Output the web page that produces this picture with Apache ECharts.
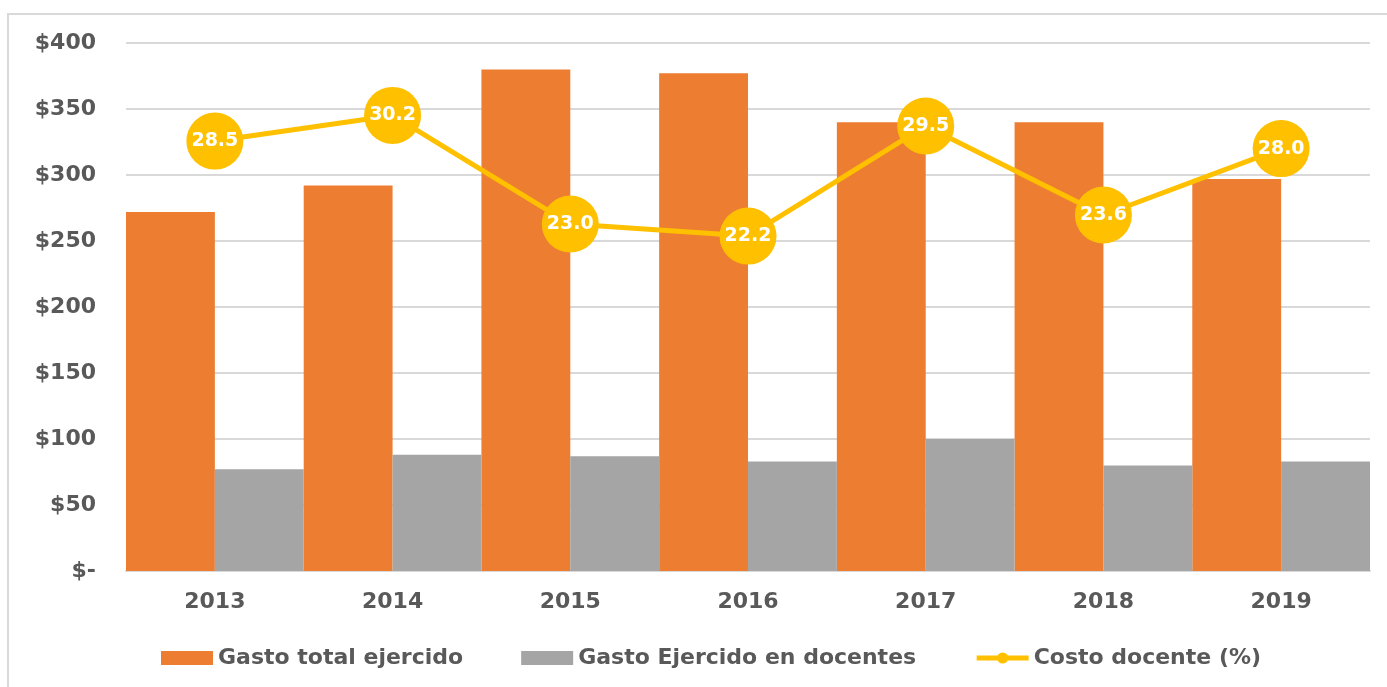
<!DOCTYPE html>
<html>
<head>
<meta charset="utf-8">
<script src="https://cdn.jsdelivr.net/npm/echarts@6/dist/echarts.min.js"></script>
<style>
  html, body { margin: 0; padding: 0; background: #fff; }
  #chart { width: 1387px; height: 687px; }
</style>
</head>
<body>
<div id="chart"></div>
<script>
const years = ['2013', '2014', '2015', '2016', '2017', '2018', '2019'];
const gastoTotal = [272, 292, 380, 377, 340, 340, 297];
const gastoDocentes = [77, 88, 87, 83, 100, 80, 83];
const costoDocente = [28.5, 30.2, 23.0, 22.2, 29.5, 23.6, 28.0];
const seriesNames = ['Gasto total ejercido', 'Gasto Ejercido en docentes', 'Costo docente (%)'];

const textColor = '#595959';
const font = 'DejaVu Sans';

const chart = echarts.init(document.getElementById('chart'));

chart.setOption({
  animation: false,
  textStyle: {fontFamily: font},
  graphic: [
    {
      type: 'rect',
      shape: {x: 8, y: 14, width: 1400, height: 700},
      style: {fill: 'none', stroke: '#d9d9d9', lineWidth: 2},
      silent: true
    }
  ],
  grid: {left: 126, right: 17, top: 43, bottom: 116},
  legend: {
    left: 156,
    top: 642,
    itemWidth: 52,
    itemHeight: 14,
    itemGap: 58,
    textStyle: {color: textColor, fontSize: 22, fontWeight: 'bold', fontFamily: font},
    data: [
      {name: seriesNames[0], icon: 'rect'},
      {name: seriesNames[1], icon: 'rect'},
      {name: seriesNames[2], lineStyle: {width: 5}}
    ]
  },
  xAxis: {
    type: 'category',
    data: years,
    axisTick: {show: false},
    axisLine: {lineStyle: {color: '#d9d9d9', width: 2}},
    axisLabel: {color: textColor, fontSize: 22, fontWeight: 'bold', margin: 20}
  },
  yAxis: [
    {
      type: 'value',
      min: 0,
      max: 400,
      interval: 50,
      axisLabel: {
        color: textColor,
        fontSize: 22,
        fontWeight: 'bold',
        margin: 30,
        formatter: (v) => (v === 0 ? '$-' : '$' + v)
      },
      splitLine: {lineStyle: {color: '#d9d9d9', width: 2}}
    },
    {
      type: 'value',
      min: 0,
      max: 35,
      show: false,
      splitLine: {show: false}
    }
  ],
  series: [
    {
      name: seriesNames[0],
      type: 'bar',
      data: gastoTotal,
      barGap: '0%',
      barCategoryGap: '0%',
      itemStyle: {color: '#ED7D31'}
    },
    {
      name: seriesNames[1],
      type: 'bar',
      data: gastoDocentes,
      itemStyle: {color: '#A5A5A5'}
    },
    {
      name: seriesNames[2],
      type: 'line',
      yAxisIndex: 1,
      data: costoDocente,
      symbol: 'circle',
      symbolSize: 57,
      lineStyle: {color: '#FFC000', width: 5},
      itemStyle: {color: '#FFC000'},
      label: {
        show: true,
        position: 'inside',
        color: '#fff',
        fontSize: 19,
        fontWeight: 'bold',
        formatter: (p) => p.value.toFixed(1)
      },
      z: 5
    }
  ]
});
</script>
</body>
</html>
